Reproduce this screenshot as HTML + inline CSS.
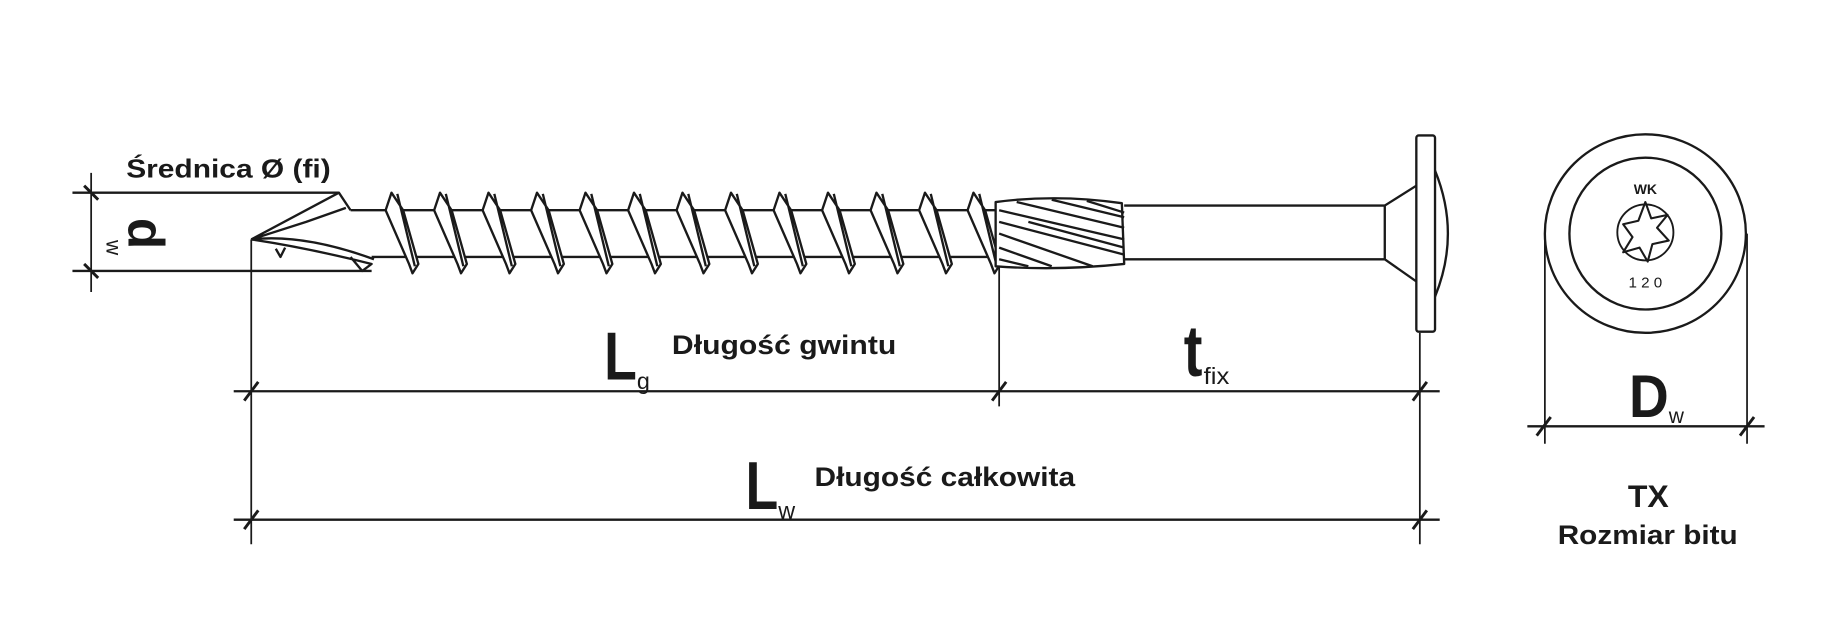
<!DOCTYPE html>
<html><head><meta charset="utf-8"><style>
html,body{margin:0;padding:0;background:#fff;}
svg{display:block;}
text{font-family:"Liberation Sans Narrow","Liberation Sans",sans-serif;fill:#1a1a1a;}
</style></head><body>
<svg width="1823" height="626" viewBox="0 0 1560 536" preserveAspectRatio="none" xmlns="http://www.w3.org/2000/svg">
<rect width="1560" height="536" fill="#fff"/>
<g stroke="#1a1a1a" fill="none" stroke-width="2" stroke-linejoin="round">
<line x1="62" y1="165" x2="290" y2="165"/>
<line x1="62" y1="232" x2="318" y2="232"/>
<line x1="78" y1="148" x2="78" y2="250" stroke-width="1.5"/>
<line x1="72" y1="159" x2="84" y2="171" stroke-width="2.5"/>
<line x1="72" y1="226" x2="84" y2="238" stroke-width="2.5"/>
<path d="M215 205 L290 165 L300 180 M215 205 L262 190 L296 178 M215 205 Q260 200 320 222 M215 205 Q262 212 318 226 L310 232 L300 220 M236 213 L240 220 L244 212"/>
<line x1="215" y1="205" x2="215" y2="466" stroke-width="1.5"/>
<line x1="300" y1="180" x2="855" y2="180"/>
<line x1="318" y1="220" x2="855" y2="220"/>
</g>
<g stroke="#1a1a1a" fill="#fff" stroke-width="2" stroke-linejoin="round">
<path id="cr" d="M335 165 L330 180 L350 226 L353 234 L358 226 L345 180 Z M340 166 L355 228"/>
</g>
<g stroke="#1a1a1a" fill="#fff" stroke-width="2" stroke-linejoin="round">
<use href="#cr" x="41.5"/><use href="#cr" x="83"/><use href="#cr" x="124.5"/><use href="#cr" x="166"/><use href="#cr" x="207.5"/><use href="#cr" x="249"/><use href="#cr" x="290.5"/><use href="#cr" x="332"/><use href="#cr" x="373.5"/><use href="#cr" x="415"/><use href="#cr" x="456.5"/><use href="#cr" x="498"/>
</g>
<g stroke="#1a1a1a" fill="none" stroke-width="2" stroke-linejoin="round">
<path d="M852 173 Q905 166 960 174 L962 226 Q905 232 852 228 Z" fill="#fff"/>
<path d="M855 180 L962 205 M855 190 L962 218 M855 200 L935 228 M855 212 L900 228 M870 173 L962 195 M900 171 L962 186 M855 222 L880 228 M930 172 L962 182 M880 190 L962 212"/>
<line x1="962" y1="176" x2="1185" y2="176"/>
<line x1="962" y1="222" x2="1185" y2="222"/>
<path d="M1185 176 L1212 159 M1185 222 L1212 241 M1185 176 L1185 222"/>
<rect x="1212" y="116" width="16" height="168" rx="2" fill="#fff"/>
<path d="M1228 146 Q1250 200 1228 254"/>
<line x1="855" y1="228" x2="855" y2="348" stroke-width="1.5"/>
<line x1="1215" y1="285" x2="1215" y2="466" stroke-width="1.5"/>
<line x1="200" y1="335" x2="1232" y2="335"/>
<line x1="200" y1="445" x2="1232" y2="445"/>
<g stroke-width="2.5">
<line x1="209" y1="343" x2="221" y2="327"/><line x1="849" y1="343" x2="861" y2="327"/><line x1="1209" y1="343" x2="1221" y2="327"/>
<line x1="209" y1="453" x2="221" y2="437"/><line x1="1209" y1="453" x2="1221" y2="437"/>
<line x1="1315" y1="373" x2="1327" y2="357"/><line x1="1489" y1="373" x2="1501" y2="357"/>
</g>
<ellipse cx="1408" cy="200" rx="86" ry="85"/>
<circle cx="1408" cy="200" r="65"/>
<path d="M1408 173 L1413 187 L1427 184 L1418 195 L1428 206 L1414 209 L1410 224 L1403 212 L1389 216 L1397 203 L1389 192 L1402 189 Z" stroke-width="1.8"/>
<circle cx="1408" cy="199" r="24" stroke-width="1.6"/>
<line x1="1322" y1="200" x2="1322" y2="380" stroke-width="1.5"/>
<line x1="1495" y1="200" x2="1495" y2="380" stroke-width="1.5"/>
<line x1="1307" y1="365" x2="1510" y2="365"/>
</g>
<text x="108" y="152" font-size="22" font-weight="bold" textLength="175" lengthAdjust="spacingAndGlyphs">Średnica Ø (fi)</text>
<text transform="translate(110,200) rotate(90)" font-size="44" font-weight="bold" text-anchor="middle" x="0" y="0">d</text>
<text transform="translate(91,212) rotate(90)" font-size="18" text-anchor="middle">w</text>
<text x="517" y="325" font-size="58" font-weight="bold" textLength="28" lengthAdjust="spacingAndGlyphs">L</text>
<text x="545" y="333" font-size="20">g</text>
<text x="575" y="303" font-size="23" font-weight="bold" textLength="192" lengthAdjust="spacingAndGlyphs">Długość gwintu</text>
<text x="1013" y="322" font-size="62" font-weight="bold" textLength="16" lengthAdjust="spacingAndGlyphs">t</text>
<text x="1030" y="329" font-size="20" textLength="22" lengthAdjust="spacingAndGlyphs">fix</text>
<text x="638" y="436" font-size="58" font-weight="bold" textLength="28" lengthAdjust="spacingAndGlyphs">L</text>
<text x="666" y="444" font-size="20">w</text>
<text x="697" y="416" font-size="23" font-weight="bold" textLength="223" lengthAdjust="spacingAndGlyphs">Długość całkowita</text>
<text x="1394" y="357" font-size="52" font-weight="bold" textLength="34" lengthAdjust="spacingAndGlyphs">D</text>
<text x="1428" y="362" font-size="18">w</text>
<text x="1408" y="166" font-size="12" text-anchor="middle" font-weight="bold">WK</text>
<text x="1408" y="246" font-size="13" text-anchor="middle">1 2 0</text>
<text x="1393" y="434" font-size="27" font-weight="bold" textLength="35" lengthAdjust="spacingAndGlyphs">TX</text>
<text x="1333" y="466" font-size="23" font-weight="bold" textLength="154" lengthAdjust="spacingAndGlyphs">Rozmiar bitu</text>
</svg>
</body></html>
